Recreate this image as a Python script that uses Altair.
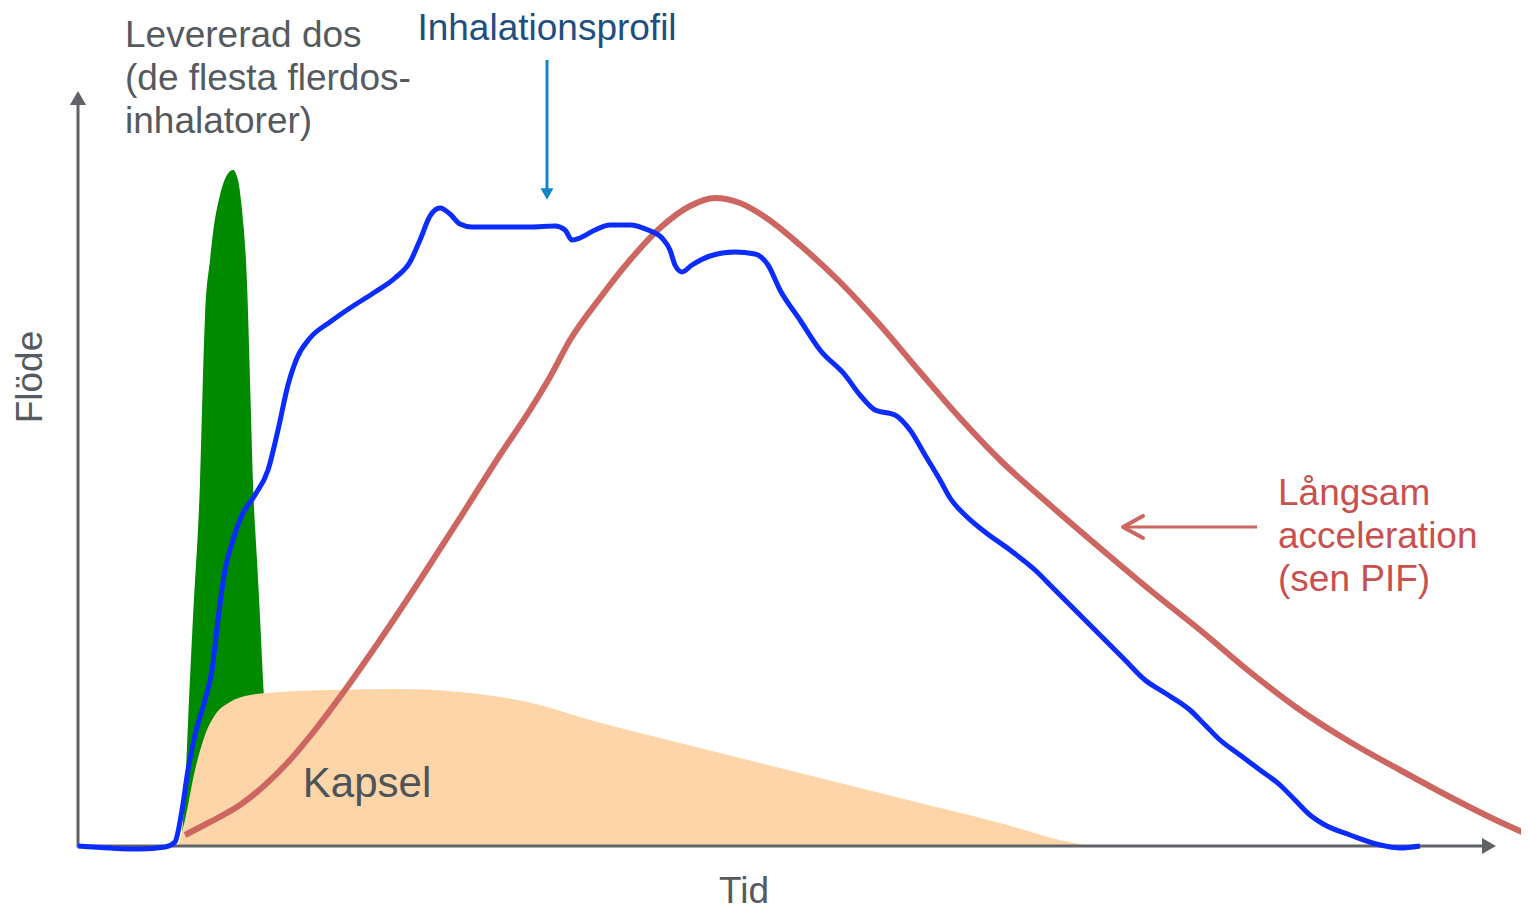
import altair as alt
import pandas as pd

BASE = 846  # pixel row of the time axis in the reference; flow = BASE - row

# Inhalation profile (blue)
blue_x = [78,110,140,165,175,178,182,188,195,205,212,218,225,233,242,255,268,278,288,297,310,330,350,375,395,410,420,430,440,450,460,472,500,530,555,565,572,580,595,610,630,648,662,670,675,682,692,710,735,755,768,780,800,820,845,860,875,895,910,925,940,950,965,985,1010,1035,1055,1080,1105,1125,1145,1165,1190,1205,1220,1240,1260,1280,1295,1310,1325,1350,1380,1400,1420]
blue_row = [846,848,849,847,842,832,810,770,735,700,670,620,570,540,515,495,470,430,385,358,338,322,308,292,278,262,240,216,208,214,224,227,227,227,226,230,240,238,230,225,225,230,238,250,265,272,265,256,252,254,265,290,320,350,375,395,410,415,430,455,480,498,515,532,550,570,590,615,640,660,680,693,710,725,740,755,770,785,800,815,825,835,845,848,846]

# Slow acceleration (red)
red_x = [185,210,240,265,290,315,345,380,420,460,500,530,550,570,600,630,660,690,715,740,765,800,840,880,920,960,1000,1050,1100,1150,1200,1250,1300,1350,1400,1450,1500,1529]
red_row = [835,822,805,785,760,730,690,640,580,518,455,410,377,340,298,260,228,206,198,203,217,245,282,325,372,418,460,505,548,590,630,672,710,742,770,797,822,835]

# Delivered dose (green peak)
green_x = [181,185,189,193,200,205,210,213,220,227,233,238,242,247,250,253,257,260,263,265,266,267]
green_row = [846,790,700,617,483,317,260,233,195,175,170,180,210,283,380,483,560,617,680,720,780,846]

# Capsule (peach)
caps_x = [178,185,195,205,215,230,250,280,330,400,460,500,540,580,640,700,800,900,1000,1060,1090]
caps_row = [846,820,770,735,715,702,695,692,690,689,692,697,705,717,733,748,773,798,823,840,846]

def frame(xs, rows):
    return pd.DataFrame({"x": xs, "y": [BASE - r for r in rows], "o": list(range(len(xs)))})

xs = alt.Scale(domain=[8, 1521], nice=False, zero=False)
ys = alt.Scale(domain=[BASE - 911, BASE - 8], nice=False, zero=False)
X = alt.X("x:Q", scale=xs, axis=None)
Y = alt.Y("y:Q", scale=ys, axis=None)

GRAY = "#5f6368"

green = alt.Chart(frame(green_x, green_row)).mark_area(color="#008a00", interpolate="monotone").encode(X, Y, y2=alt.datum(0))
caps = alt.Chart(frame(caps_x, caps_row)).mark_area(color="#fdd5a9", interpolate="monotone").encode(X, Y, y2=alt.datum(0))

# axes as arrows
axis_df = pd.DataFrame({"x": [78, 78, 1484], "y": [BASE - 102, 0, 0], "o": [0, 1, 2]})
axes = alt.Chart(axis_df).mark_line(color=GRAY, strokeWidth=3).encode(X, Y, order="o:Q")
heads = pd.DataFrame({"x": [78, 1489], "y": [BASE - 98, 0], "s": ["triangle-up", "triangle-right"]})
axis_heads = alt.Chart(heads).mark_point(filled=True, color=GRAY, size=260, opacity=1).encode(
    X, Y, shape=alt.Shape("s:N", scale=None))

red = alt.Chart(frame(red_x, red_row)).mark_line(color="#cd6660", strokeWidth=6, interpolate="monotone").encode(X, Y, order="o:Q")
blue = alt.Chart(frame(blue_x, blue_row)).mark_line(color="#0a2cff", strokeWidth=5, interpolate="monotone").encode(X, Y, order="o:Q")

# Inhalation profile pointer
bl_df = pd.DataFrame({"x": [547, 547], "y": [BASE - 60, BASE - 190], "o": [0, 1]})
bl_arrow = alt.Chart(bl_df).mark_line(color="#1186c8", strokeWidth=3).encode(X, Y, order="o:Q")
bl_head = alt.Chart(pd.DataFrame({"x": [547], "y": [BASE - 194]})).mark_point(
    shape="triangle-down", filled=True, color="#1186c8", size=170, opacity=1).encode(X, Y)

# Slow acceleration pointer
rd_df = pd.DataFrame({"x": [1257, 1124], "y": [BASE - 527, BASE - 527], "o": [0, 1]})
rd_arrow = alt.Chart(rd_df).mark_line(color="#cd6660", strokeWidth=3).encode(X, Y, order="o:Q")
rd_chev_df = pd.DataFrame({"x": [1143, 1123, 1143], "y": [BASE - 516, BASE - 527, BASE - 538], "o": [0, 1, 2]})
rd_chev = alt.Chart(rd_chev_df).mark_line(color="#cd6660", strokeWidth=4, strokeCap="round", strokeJoin="round").encode(X, Y, order="o:Q")

FONT = "Liberation Sans"

def label(x, y, txt, color, size=37, align="left", angle=0):
    df = pd.DataFrame({"x": [x], "y": [y], "t": [txt]})
    return alt.Chart(df).mark_text(font=FONT, fontSize=size, color=color, align=align,
                                   baseline="alphabetic", lineBreak="\n", lineHeight=43, angle=angle).encode(X, Y, text="t:N")

t_dose = label(125, BASE - 47, "Levererad dos\n(de flesta flerdos-\ninhalatorer)", "#555a5f")
t_inh = label(547, BASE - 40, "Inhalationsprofil", "#1f4e80", align="center")
t_slow = label(1278, BASE - 505, "Långsam\nacceleration\n(sen PIF)", "#c9504f")
t_caps = label(367, BASE - 797, "Kapsel", "#4d5358", size=42, align="center")
t_tid = label(744, BASE - 903, "Tid", "#555a5f", align="center")
t_flode = label(42, BASE - 377, "Flöde", "#555a5f", align="center", angle=270)

chart = alt.layer(green, caps, axes, axis_heads, red, blue, bl_arrow, bl_head, rd_arrow, rd_chev,
                  t_dose, t_inh, t_slow, t_caps, t_tid, t_flode).properties(
    width=1513, height=903, padding=0, autosize="none"
).configure_view(stroke=None)

chart.save("out.html", embed_options={"renderer": "svg", "actions": False})
